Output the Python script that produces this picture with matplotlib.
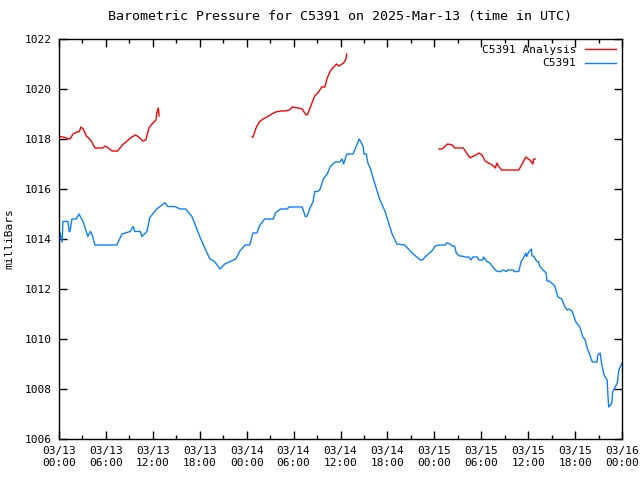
import numpy as np
import matplotlib
matplotlib.use("Agg")
import matplotlib.pyplot as plt
from matplotlib.ticker import MultipleLocator

# hours since 2025-03-13 00:00 UTC, pressure in mb
obs_hours = [0.13, 0.4, 0.5, 1.15, 1.3, 1.4, 1.66, 2.2, 2.56, 3.07, 3.7, 4.0, 4.2, 4.6,
             6.1, 7.4, 8.05, 9.1, 9.5, 9.7, 10.4, 10.6, 11.25, 11.6, 12.5, 13.55, 13.9,
             14.8, 15.5, 16.2, 17.0, 18.0, 18.7, 19.3, 19.9, 20.6, 21.2, 21.9, 22.6,
             23.1, 23.8, 24.4, 24.8, 25.3, 25.7, 26.3, 27.4, 27.7, 28.3, 29.2, 29.4,
             31.1, 31.5, 31.7, 32.1, 32.5, 32.7, 33.1, 33.4, 33.8, 34.3, 34.7, 35.3,
             35.9, 36.2, 36.4, 36.8, 37.6, 38.0, 38.4, 38.9, 39.0, 39.3, 39.5, 39.8,
             40.4, 41.0, 41.7, 42.6, 43.2, 44.2, 45.3, 46.2, 46.5, 46.8, 47.4, 47.8,
             48.1, 48.7, 49.4, 49.6, 50.0, 50.3, 50.6, 50.8, 51.2, 51.5, 51.9, 52.4,
             52.7, 52.9, 53.5, 53.7, 54.2, 54.3, 54.7, 55.1, 55.5, 55.8, 56.1, 56.5,
             56.8, 57.2, 57.4, 58.1, 58.2, 58.8, 59.1, 59.4, 59.7, 59.8, 60.1, 60.4,
             60.5, 60.7, 61.1, 61.3, 61.5, 61.9, 62.3, 62.4, 62.7, 63.0, 63.4, 63.8,
             64.3, 64.5, 64.7, 65.0, 65.2, 65.6, 65.7, 66.1, 66.6, 67.0, 67.3, 67.5,
             67.8, 68.2, 68.8, 68.9, 69.2, 69.4, 69.7, 70.1, 70.2, 70.3, 70.7, 70.8,
             71.4, 71.6, 72.0]
obs_mb = [1014.24, 1013.87, 1014.7, 1014.7, 1014.3, 1014.3, 1014.8, 1014.8, 1015.0,
          1014.7, 1014.1, 1014.3, 1014.2, 1013.76, 1013.76, 1013.76, 1014.2, 1014.3,
          1014.5, 1014.3, 1014.3, 1014.1, 1014.3, 1014.85, 1015.2, 1015.45, 1015.3,
          1015.3, 1015.2, 1015.2, 1014.9, 1014.1, 1013.6, 1013.2, 1013.1, 1012.8,
          1013.0, 1013.1, 1013.2, 1013.5, 1013.76, 1013.76, 1014.24, 1014.24, 1014.56,
          1014.8, 1014.8, 1015.04, 1015.2, 1015.2, 1015.28, 1015.28, 1014.9, 1014.9,
          1015.24, 1015.5, 1015.9, 1015.9, 1016.0, 1016.4, 1016.6, 1016.9, 1017.08,
          1017.08, 1017.2, 1017.0, 1017.4, 1017.4, 1017.7, 1018.0, 1017.7, 1017.4,
          1017.4, 1017.04, 1016.84, 1016.2, 1015.6, 1015.1, 1014.2, 1013.8, 1013.76,
          1013.4, 1013.16, 1013.16, 1013.28, 1013.44, 1013.56, 1013.72, 1013.76,
          1013.76, 1013.84, 1013.8, 1013.72, 1013.72, 1013.44, 1013.32, 1013.32,
          1013.28, 1013.28, 1013.16, 1013.28, 1013.28, 1013.16, 1013.16, 1013.28,
          1013.1, 1013.04, 1012.88, 1012.76, 1012.7, 1012.7, 1012.76, 1012.7, 1012.76,
          1012.76, 1012.7, 1012.7, 1013.1, 1013.24, 1013.44, 1013.3, 1013.5, 1013.6,
          1013.32, 1013.32, 1013.1, 1013.1, 1012.9, 1012.76, 1012.64, 1012.32, 1012.32,
          1012.24, 1012.12, 1011.68, 1011.6, 1011.44, 1011.28, 1011.16, 1011.2, 1011.12,
          1011.04, 1010.68, 1010.48, 1010.08, 1009.96, 1009.68, 1009.44, 1009.08,
          1009.08, 1009.36, 1009.44, 1009.0, 1008.56, 1008.36, 1007.76, 1007.28,
          1007.44, 1007.88, 1008.24, 1008.76, 1009.04]

# analysis series, NaN marks gaps
ana_hours = [0.1, 0.5, 1.4, 1.8, 2.3, 2.6, 2.8, 3.1, 3.5, 3.8, 4.2, 4.6, 5.6, 5.9, 6.3,
             6.8, 7.5, 8.1, 8.7, 9.3, 9.8, 10.2, 10.7, 11.1, 11.5, 12.0, 12.4, 12.5,
             12.7, 12.8, 18.0,
             24.7, 24.8, 25.2, 25.6, 26.1, 26.6, 27.2, 27.7, 28.4, 28.9, 29.5, 29.8,
             30.2, 30.6, 31.1, 31.5, 31.7, 31.8, 32.4, 32.7, 33.1, 33.6, 34.0, 34.3,
             34.7, 35.0, 35.5, 35.8, 36.2, 36.4, 36.7, 36.8, 42.0,
             48.6, 49.0, 49.4, 49.7, 50.3, 50.6, 51.7, 52.2, 52.6, 52.9, 53.3, 53.7,
             54.1, 54.5, 54.9, 55.4, 55.8, 56.0, 56.1, 56.6, 57.7, 58.8, 59.3, 59.7,
             60.2, 60.6, 60.7, 60.9]
ana_mb = [1018.1, 1018.08, 1018.0, 1018.2, 1018.28, 1018.3, 1018.48, 1018.4, 1018.12,
          1018.04, 1017.88, 1017.64, 1017.64, 1017.72, 1017.64, 1017.52, 1017.52,
          1017.76, 1017.92, 1018.08, 1018.16, 1018.08, 1017.92, 1017.96, 1018.44,
          1018.64, 1018.76, 1019.04, 1019.24, 1018.92, np.nan,
          1018.08, 1018.08, 1018.44, 1018.68, 1018.8, 1018.88, 1019.0, 1019.08,
          1019.12, 1019.12, 1019.16, 1019.28, 1019.26, 1019.24, 1019.2, 1019.0,
          1018.96, 1019.0, 1019.48, 1019.72, 1019.84, 1020.08, 1020.08, 1020.44,
          1020.72, 1020.84, 1021.0, 1020.92, 1021.0, 1021.04, 1021.2, 1021.4, np.nan,
          1017.6, 1017.6, 1017.72, 1017.8, 1017.76, 1017.64, 1017.64, 1017.4, 1017.24,
          1017.3, 1017.36, 1017.44, 1017.36, 1017.12, 1017.04, 1016.96, 1016.84,
          1017.04, 1016.96, 1016.76, 1016.76, 1016.76, 1017.04, 1017.28, 1017.16,
          1017.0, 1017.2, 1017.2]

tick_hours = list(range(0, 73, 6))
tick_labels = ["03/13\n00:00", "03/13\n06:00", "03/13\n12:00", "03/13\n18:00",
               "03/14\n00:00", "03/14\n06:00", "03/14\n12:00", "03/14\n18:00",
               "03/15\n00:00", "03/15\n06:00", "03/15\n12:00", "03/15\n18:00",
               "03/16\n00:00"]

plt.rcParams['font.family'] = ['DejaVu Sans Mono']
plt.rcParams['font.size'] = 8

fig = plt.figure(figsize=(6.4, 4.8), dpi=100)
ax = fig.add_axes([59/640, 41/480, 563/640, 400/480])

ax.plot(ana_hours, ana_mb, color='#ff0000', lw=1.0, label='C5391 Analysis')
ax.plot(obs_hours, obs_mb, color='#0a80ff', lw=1.0, label='C5391')

ax.set_xlim(0, 72)
ax.set_ylim(1006, 1022)
ax.set_xticks(tick_hours)
ax.set_xticklabels(tick_labels)
ax.xaxis.set_minor_locator(MultipleLocator(3))
ax.yaxis.set_major_locator(MultipleLocator(2))
ax.tick_params(which='both', direction='in', top=True, right=True, width=1)
ax.tick_params(which='major', length=6, pad=5)
ax.tick_params(which='minor', length=3)
for s in ax.spines.values():
    s.set_linewidth(1)

ax.set_ylabel('milliBars', labelpad=8)
ax.set_title('Barometric Pressure for C5391 on 2025-Mar-13 (time in UTC)', pad=14)

ax.legend(loc='upper right', frameon=False, markerfirst=False, handlelength=2.8,
          borderaxespad=0.2, borderpad=0.3, labelspacing=0.35, handletextpad=0.8)

fig.savefig('out.png', dpi=100)
